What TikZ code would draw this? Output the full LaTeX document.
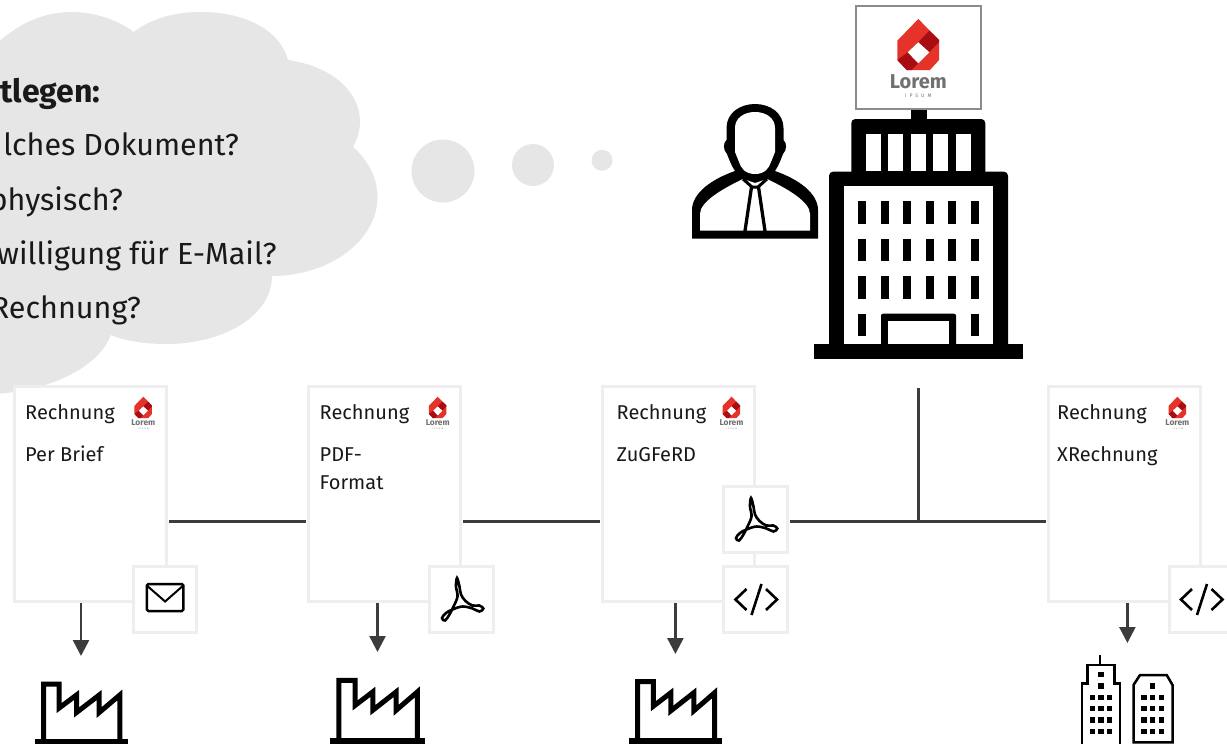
\documentclass[tikz,border=0pt]{standalone}
\usepackage{fontspec}
\setmainfont{Fira Sans}
\usetikzlibrary{arrows.meta}

\definecolor{wolke}{HTML}{E6E6E6}
\definecolor{rahmen}{HTML}{EEEEEE}
\definecolor{linie}{HTML}{3C3C3C}
\definecolor{logorot}{HTML}{E63329}
\definecolor{logodunkel}{HTML}{A80D14}
\definecolor{logograu}{HTML}{707070}

\tikzset{
	karte/.style={draw=rahmen, line width=3pt, fill=white, minimum width=152pt, minimum height=215pt},
	symbolbox/.style={draw=rahmen, line width=3pt, fill=white, minimum width=63.5pt, minimum height=66pt},
	verbindung/.style={draw=linie, line width=2.5pt, shorten <=1pt, shorten >=1pt},
	pfeil/.style={draw=linie, line width=2.5pt, -{Triangle[width=16pt,length=16pt]}},
	kartentext/.style={anchor=base west, inner sep=0pt, font=\fontsize{20}{24}\selectfont, text=black!90},
	wolkentext/.style={anchor=base east, inner sep=0pt, font=\fontsize{30.5}{36}\selectfont, text=black!90},
	pics/fabrik/.style={code={
		\fill (-46.5,0) rectangle (46.5,6);
		\draw[line width=5pt] (-37.5,1) -- (-37.5,-54.8) -- (-21.8,-54.8) -- (-21.8,-31) -- (-4.5,-44) -- (-4.5,-26.5) -- (18.2,-44) -- (18.2,-26.5) -- (38.8,-44) -- (38.8,1);
	}},
	pics/logo/.style 2 args={code={
		\fill[logorot] (0,0) -- (20.7,21) -- (20.7,41) -- (11.7,51) -- (-11.6,51) -- (-21,41) -- (-21,21.7) -- cycle;
		\fill[logodunkel] (11,11.7) -- (20.7,21) -- (20.7,23) -- (11,33.3) -- (0,23.3) -- cycle;
		\fill[logodunkel] (-10.6,33.3) -- (-21,41) -- (-11.6,51) -- (-6.6,51) -- (0,44.3) -- cycle;
		\fill[white] (0,23.3) -- (11,33.3) -- (0,44.3) -- (-10.6,33.3) -- cycle;
		\node[anchor=base, inner sep=0pt, text=logograu, font=\fontsize{#1}{#1}\selectfont\bfseries] (-wort) at (0,69.3) {Lorem};
		\node[anchor=base, inner sep=0pt, text=logograu, font=\fontsize{#2}{#2}\selectfont\addfontfeatures{LetterSpace=60}] (-zusatz) at (0,78.7) {IPSUM};
	}},
	pics/brief/.style={code={
		\draw[line width=2.5pt, rounded corners=1.5pt] (-18,-15.5) rectangle (18.5,11.5);
		\draw[line width=2pt] (-18,-14) -- (0.3,2) -- (18.5,-14);
	}},
	pics/pdf/.style={code={
		\draw[line width=2.6pt] plot[smooth cycle, tension=0.6] coordinates {(-4.5,-21.5) (-2,-13) (-0.5,-5) (4,1.5) (11,6) (17.8,6) (21.8,9) (18,12) (11,9) (1,7) (-9,10) (-15.5,13.5) (-19.5,18.5) (-16.5,21) (-12,15) (-8,7) (-4,-3) (-5.5,-13)};
	}},
	pics/quelltext/.style={code={
		\draw[line width=2.6pt] (-9,-10.5) -- (-20,0) -- (-9,10.5);
		\draw[line width=2.6pt] (10.5,-10.5) -- (21.5,0) -- (10.5,10.5);
		\draw[line width=2.6pt] (6,-15.5) -- (-4,15.5);
	}},
}

\begin{document}
\begin{tikzpicture}[x=1pt, y=-1pt]
	\clip (0,0) rectangle (1227,744);

	%% Wolke
	\fill[wolke] (-5,45) .. controls (20,22) and (45,12) .. (71,12) .. controls (95,12) and (118,20) .. (133.6,32)
		.. controls (152,18) and (175,12) .. (201,12) .. controls (245,12) and (280,30) .. (288,60)
		.. controls (330,66) and (360,90) .. (360,122) .. controls (360,131) and (357,140) .. (353,147)
		.. controls (368,160) and (377.5,178) .. (377.5,197) .. controls (377.5,240) and (330,276) .. (272,276)
		.. controls (272,315) and (225,344) .. (166,344) .. controls (145,344) and (125,341) .. (110.7,335)
		.. controls (100,365) and (55,390) .. (-5,394) -- cycle;
	\fill[wolke] (443,171) circle (31.5);
	\fill[wolke] (533,165) circle (21);
	\fill[wolke] (602,160.3) circle (10.5);
	\node[wolkentext, font=\fontsize{32}{36}\selectfont\bfseries] (frage) at (100.8,102.7) {tlegen:};
	\node[wolkentext] (dokument) at (239,155) {lches Dokument?};
	\node[wolkentext] (physisch) at (123,210) {physisch?};
	\node[wolkentext] (email) at (276.7,264.3) {willigung für E-Mail?};
	\node[wolkentext] (rechnung) at (141,318.3) {Rechnung?};

	%% Person
	\fill (692,238.5) -- (692,210) .. controls (692,193) and (712,179) .. (735,171)
		.. controls (731,165) and (729,159) .. (727,154) .. controls (723,150) and (723,143) .. (726.5,140) -- (726.5,128)
		.. controls (726.5,113) and (740,104) .. (755,104) .. controls (770,104) and (783.5,113) .. (783.5,128) -- (783.5,140)
		.. controls (787,143) and (787,150) .. (783,154) .. controls (781,159) and (779,165) .. (775,171)
		.. controls (798,179) and (818,193) .. (818,210) -- (818,238.5) -- cycle;
	\fill[white] (755,174) .. controls (745,174) and (741,168) .. (739,162) -- (735,152) -- (735,128)
		.. controls (735,118) and (744,112) .. (755,112) .. controls (766,112) and (775,118) .. (775,128) -- (775,152) -- (771,162)
		.. controls (769,168) and (765,174) .. (755,174) -- cycle;
	\fill[white] (700,230.5) -- (700,214) .. controls (700,202) and (722,189) .. (743,179) -- (755,183) -- (767,179)
		.. controls (788,189) and (810,202) .. (810,214) -- (810,230.5) -- cycle;
	\draw[line width=3pt] (743,179) -- (752,187) -- (758,187) -- (767,179);
	\draw[line width=3.3pt] (751.5,187) -- (745,231);
	\draw[line width=3.3pt] (758.5,187) -- (765,231);

	%% Gebaeude
	\draw[draw=black!45, line width=2pt] (856,5.7) rectangle (981,108.7);
	\pic (logogross) at (918.3,19) {logo={20}{5}};
	\fill (911,109.5) rectangle (927,120);
	\fill[rounded corners=4pt] (851.3,119) rectangle (985.3,180);
	\fill[rounded corners=4pt] (829,171.7) rectangle (1008,350);
	\fill (814,344) rectangle (1023,358.7);
	\fill[white] (843.7,186) rectangle (993.3,344);
	\foreach \x in {866,888.3,911,933.3,956}
		\fill[white] (\x,134) rectangle +(15,37);
	\foreach \x in {858.3,881,903.3,926,948.3,970.7}
		\foreach \y in {201.3,238.7,276}
			\fill (\x,\y) rectangle +(8,22.7);
	\fill (858.3,313.7) rectangle +(8,22.7);
	\fill (970.7,313.7) rectangle +(8,22.7);
	\fill[rounded corners=2pt] (881,313.7) rectangle (956,350);
	\fill[white] (888.3,321) rectangle (948.7,344);
	\fill (881,344) rectangle (956,358.7);

	%% Karten
	\node[karte] (brief) at (90.3,494.3) {};
	\node[karte] (pdfformat) at (384.7,494.3) {};
	\node[karte] (zugferd) at (678.5,494.3) {};
	\node[karte] (xrechnung) at (1124,494.3) {};
	\node[symbolbox] (boxbrief) at (164.8,599.5) {};
	\node[symbolbox] (boxpdf) at (461.5,599.5) {};
	\node[symbolbox] (boxzugpdf) at (755.5,519.5) {};
	\node[symbolbox] (boxzugcode) at (755.5,599.5) {};
	\node[symbolbox] (boxxml) at (1201,599.5) {};

	\node[kartentext] (titela) at (25,419.3) {Rechnung};
	\node[kartentext] (artbrief) at (25,461) {Per Brief};
	\node[kartentext] (titelb) at (319.5,419.3) {Rechnung};
	\node[kartentext] (artpdf) at (319.5,461) {PDF-};
	\node[kartentext] (artformat) at (319.5,489.3) {Format};
	\node[kartentext] (titelc) at (616.5,419.3) {Rechnung};
	\node[kartentext] (artzug) at (616.5,461) {ZuGFeRD};
	\node[kartentext] (titeld) at (1057,419.3) {Rechnung};
	\node[kartentext] (artx) at (1057,461) {XRechnung};

	\pic[scale=0.42] (logoa) at (143.3,396.7) {logo={8.4}{2.1}};
	\pic[scale=0.42] (logob) at (437.7,396.7) {logo={8.4}{2.1}};
	\pic[scale=0.42] (logoc) at (731.5,396.7) {logo={8.4}{2.1}};
	\pic[scale=0.42] (logod) at (1177.4,396.7) {logo={8.4}{2.1}};

	\pic at (boxbrief.center) {brief};
	\pic at (boxpdf.center) {pdf};
	\pic at (boxzugpdf.center) {pdf};
	\pic at (boxzugcode.center) {quelltext};
	\pic at (boxxml.center) {quelltext};

	%% Verbindungen
	\coordinate (bus) at (0,521.5);
	\coordinate (abzweig) at (918.5,521.5);
	\coordinate (sockel) at (918.5,388);
	\draw[verbindung] (brief.east |- bus) -- (pdfformat.west |- bus);
	\draw[verbindung, line width=3pt] (pdfformat.east |- bus) -- (zugferd.west |- bus);
	\draw[verbindung, line width=3.5pt, shorten >=0pt] (boxzugpdf.east |- bus) -- (abzweig);
	\draw[verbindung, shorten <=0pt] (abzweig) -- (xrechnung.west |- bus);
	\draw[verbindung, line width=3pt, shorten <=0pt, shorten >=-1.5pt] (sockel) -- (abzweig);

	%% Pfeile
	\coordinate (ziela) at (81,656);
	\coordinate (zielb) at (377.5,652);
	\coordinate (zielc) at (675.4,654);
	\coordinate (zield) at (1127.4,643);
	\draw[pfeil] (ziela |- brief.south) -- (ziela);
	\draw[pfeil] (zielb |- pdfformat.south) -- (zielb);
	\draw[pfeil] (zielc |- zugferd.south) -- (zielc);
	\draw[pfeil] (zield |- xrechnung.south) -- (zield);

	%% Empfaenger
	\pic at (81,739) {fabrik};
	\pic[xscale=1.03, yscale=1.05] at (377.5,738) {fabrik};
	\pic[xscale=1.01, yscale=1.03] at (675.5,738) {fabrik};

	\draw[line width=2.5pt] (1100,655) -- (1100,665);
	\draw[line width=2.5pt] (1082,750) -- (1082,683.3) -- (1087.7,683.3) -- (1087.7,665) -- (1114.3,665) -- (1114.3,683.3) -- (1120,683.3) -- (1120,750);
	\draw[line width=2.5pt] (1133.5,742.3) -- (1133.5,685) -- (1140,675) -- (1166.7,675) -- (1172.5,685) -- (1172.5,742.3) -- cycle;
	\fill (1098.3,671.6) rectangle +(5.4,5.4);
	\fill (1098.3,683.3) rectangle +(5.4,5.4);
	\fill (1150,683.3) rectangle +(5.4,5.4);
	\foreach \y in {695,706,717.3,728.6} {
		\foreach \x in {1089.6,1098.3,1107} {
			\fill (\x,\y) rectangle +(5.4,5.4);
		}
		\foreach \x in {1141.3,1150,1158.6} {
			\fill (\x,\y) rectangle +(5.4,5.4);
		}
	}
\end{tikzpicture}
\end{document}
